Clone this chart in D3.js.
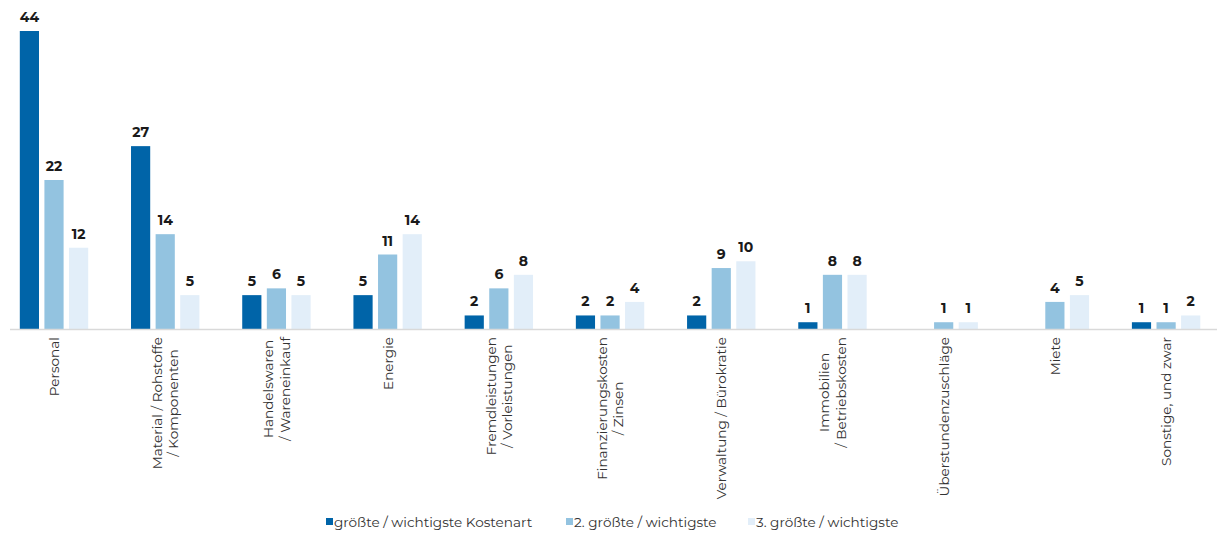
<!DOCTYPE html>
<html>
<head>
<meta charset="utf-8">
<script src="https://cdn.jsdelivr.net/npm/d3@7"></script>
<style>
  html, body { margin: 0; padding: 0; background: #ffffff; }
  svg { display: block; font-family: "Montserrat", "Open Sans", "Noto Sans", sans-serif; }
</style>
</head>
<body>
<svg id="chart" width="1218" height="536"></svg>
<script>
const categories = [
  ["Personal"],
  ["Material / Rohstoffe", "/ Komponenten"],
  ["Handelswaren", "/ Wareneinkauf"],
  ["Energie"],
  ["Fremdleistungen", "/ Vorleistungen"],
  ["Finanzierungskosten", "/ Zinsen"],
  ["Verwaltung / Bürokratie"],
  ["Immobilien", "/ Betriebskosten"],
  ["Überstundenzuschläge"],
  ["Miete"],
  ["Sonstige, und zwar"]
];
const seriesNames = ["größte / wichtigste Kostenart", "2. größte / wichtigste", "3. größte / wichtigste"];
const first  = [44, 27, 5, 5, 2, 2, 2, 1, null, null, 1];
const second = [22, 14, 6, 11, 6, 2, 9, 8, 1, 4, 1];
const third  = [12, 5, 5, 14, 8, 4, 10, 8, 1, 5, 2];
const colors = ["#0064a8", "#93c3e0", "#e2eef9"];

const svg = d3.select("#chart");
const baseY = 329;
const catKeys = categories.map((c, i) => i);
const series = [first, second, third];

const x0 = d3.scaleBand().domain(catKeys).range([-1.6, 1221.7]).paddingInner(0.385).paddingOuter(0.1925);
const x1 = d3.scaleBand().domain([0, 1, 2]).range([0, x0.bandwidth()]).paddingInner(0.22);
const y = d3.scaleLinear().domain([0, 44]).range([baseY, 31]);

// bars
series.forEach((vals, s) => {
  const g = svg.append("g");
  g.selectAll("rect").data(vals.map((v, i) => ({v, i})).filter(d => d.v != null))
    .join("rect")
    .attr("x", d => x0(d.i) + x1(s))
    .attr("y", d => y(d.v))
    .attr("width", x1.bandwidth())
    .attr("height", d => baseY - y(d.v))
    .attr("fill", colors[s]);
  g.selectAll("text").data(vals.map((v, i) => ({v, i})).filter(d => d.v != null))
    .join("text")
    .attr("x", d => x0(d.i) + x1(s) + x1.bandwidth() / 2)
    .attr("y", d => y(d.v) - 9)
    .attr("text-anchor", "middle")
    .attr("font-size", 14)
    .attr("font-weight", 700)
    .attr("fill", "#1a1a1a")
    .text(d => d.v);
});

// axis line
svg.append("line")
  .attr("x1", 10).attr("x2", 1217)
  .attr("y1", baseY + 0.5).attr("y2", baseY + 0.5)
  .attr("stroke", "#d9d9d9").attr("stroke-width", 1.5);

// category labels
const lh = 16.5;
categories.forEach((lines, i) => {
  const cx = x0(i) + x0.bandwidth() / 2;
  const g = svg.append("g").attr("transform", `translate(${cx},337) rotate(-90)`);
  const texts = lines.map((l, k) => g.append("text")
    .attr("font-size", 13.6)
    .attr("fill", "#333333")
    .attr("dominant-baseline", "central")
    .attr("y", (k - (lines.length - 1) / 2) * lh)
    .text(l));
  const maxW = d3.max(texts, t => t.node().getComputedTextLength());
  texts.forEach(t => t.attr("text-anchor", "middle").attr("x", -maxW / 2));
});

// legend
const legendX = [326, 566, 748];
seriesNames.forEach((name, s) => {
  svg.append("rect").attr("x", legendX[s]).attr("y", 518).attr("width", 7).attr("height", 7).attr("fill", colors[s]);
  svg.append("text").attr("x", legendX[s] + 8).attr("y", 522)
    .attr("dominant-baseline", "central")
    .attr("font-size", 13.6).attr("fill", "#333333").text(name);
});
</script>
</body>
</html>
